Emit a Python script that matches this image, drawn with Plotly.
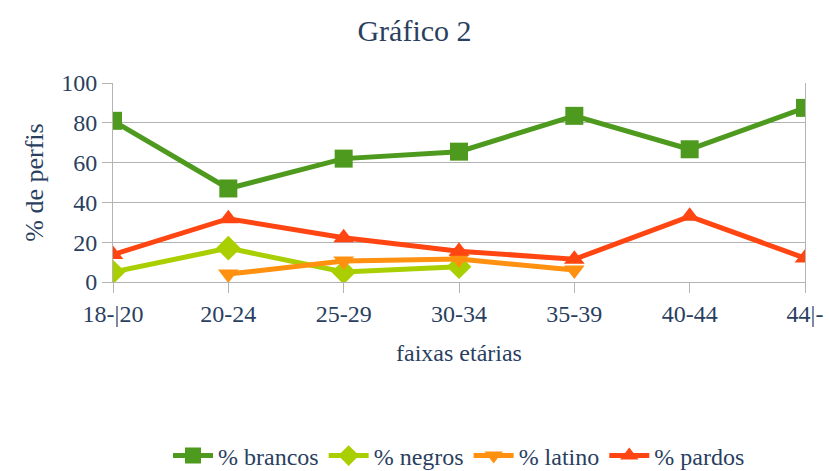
import plotly.graph_objects as go

categorias = ["18-|20", "20-24", "25-29", "30-34", "35-39", "40-44", "44|-"]
brancos = [81, 47, 62, 65.5, 83.5, 66.7, 87.5]
negros = [5, 17, 5, 7.7, None, None, None]
latino = [None, 4, 10.5, 11.5, 6, None, None]
pardos = [13.8, 31.8, 22.2, 15.5, 11.4, 33, 12]

series = [
    ("% brancos", brancos, "#4e9a1e", "square", 18),
    ("% negros", negros, "#aacf00", "diamond", 19),
    ("% latino", latino, "#ff9010", "triangle-down", 18),
    ("% pardos", pardos, "#ff4612", "triangle-up", 18),
]

SERIF = "Liberation Serif"

fig = go.Figure()
for name, vals, color, sym, sz in series:
    fig.add_trace(go.Scatter(
        x=list(range(len(categorias))), y=vals, name=name, mode="lines+markers",
        line=dict(color=color, width=5),
        marker=dict(symbol=sym, size=sz, color=color),
    ))

fig.update_layout(
    width=829, height=471,
    margin=dict(l=113, r=24, t=83, b=189, autoexpand=False),
    plot_bgcolor="white",
    font=dict(family=SERIF, size=24),
    title=dict(text="Gráfico 2", x=0.5, xanchor="center", y=1 - 30 / 471,
               yanchor="middle", font=dict(family=SERIF, size=30)),
    showlegend=True,
    legend=dict(orientation="h", x=0.5, xanchor="center", yref="container", y=1 - 456 / 471,
                yanchor="middle", font=dict(family=SERIF, size=24), itemwidth=40),
    xaxis=dict(
        range=[0, 6], tickvals=list(range(len(categorias))), ticktext=categorias,
        showgrid=False, zeroline=False, showline=True, linecolor="#b3b3b3", linewidth=1,
        ticks="outside", ticklen=10, tickcolor="#b3b3b3", automargin=False,
        tickfont=dict(family=SERIF, size=24),
        title=dict(text="faixas etárias", standoff=18, font=dict(family=SERIF, size=24)),
    ),
    yaxis=dict(
        range=[0, 100], tickvals=[0, 20, 40, 60, 80, 100], automargin=False,
        showgrid=True, gridcolor="#b3b3b3", zeroline=False,
        showline=True, linecolor="#b3b3b3", mirror=True,
        ticks="outside", ticklen=10, tickcolor="#b3b3b3",
        tickfont=dict(family=SERIF, size=24),
        title=dict(text="% de perfis", standoff=10, font=dict(family=SERIF, size=26)),
    ),
)
fig.write_html("out.html", config={"displayModeBar": False},
               post_script="document.body.style.margin='0';")
